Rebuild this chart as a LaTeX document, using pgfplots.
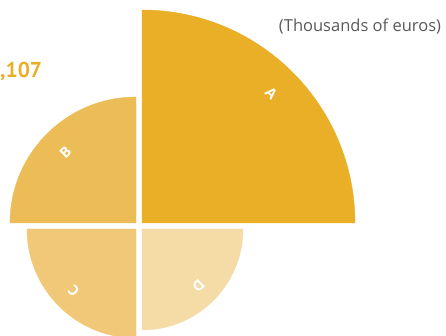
\documentclass[border=0pt]{standalone}
\usepackage{pgfplots}
\pgfplotsset{compat=1.18}
\usepackage{fontspec}
\setmainfont{PT Sans}
\newfontfamily\opensans{Open Sans}
\definecolor{qA}{HTML}{E9AF26}
\definecolor{qB}{HTML}{ECBD56}
\definecolor{qC}{HTML}{F0C878}
\definecolor{qD}{HTML}{F5DBA6}
\definecolor{txtgray}{HTML}{595959}
\pgfdeclareplotmark{emptymark}{}
\pgfplotsset{quad/.style n args={2}{scatter, only marks, mark=emptymark,
  visualization depends on={\thisrow{r} \as \rad},
  visualization depends on={\thisrow{a} \as \ang},
  visualization depends on={\thisrow{lr} \as \lrad},
  scatter/@pre marker code/.code={%
    \fill[#1] (0pt,0pt) -- (\ang:\rad pt) arc[start angle=\ang, delta angle=90, radius=\rad pt] -- cycle;
    \node[text=white, font=\opensans\bfseries\fontsize{14.5}{14.5}\selectfont, rotate=\ang-45] at ({\ang+45}:\lrad pt) {#2};
  },
  scatter/@post marker code/.code={}}}
\begin{document}
\begin{tikzpicture}
\begin{axis}[name=ax, x=1pt, y=1pt, xmin=-139, xmax=307, ymin=-110, ymax=226,
  hide axis, clip=false]
\addplot[quad={qA}{A}] table {
x y r a lr
3 3 213 0 183
};
\addplot[quad={qB}{B}] table {
x y r a lr
-3 3 126 90 100
};
\addplot[quad={qC}{C}] table {
x y r a lr
-3 -3 109 180 88
};
\addplot[quad={qD}{D}] table {
x y r a lr
3 -3 101 270 80
};
\node[anchor=base west, text=qA, font=\bfseries\fontsize{21.5}{21.5}\selectfont, inner sep=0pt] at (axis cs:-139,148) {,107};
\node[anchor=center, text=txtgray, font=\opensans\fontsize{16.5}{16.5}\selectfont, inner sep=0pt] at (axis cs:221,199) {(Thousands of euros)};
\end{axis}
\pgfresetboundingbox
\path[use as bounding box] (ax.south west) rectangle (ax.north east);
\end{tikzpicture}
\end{document}
